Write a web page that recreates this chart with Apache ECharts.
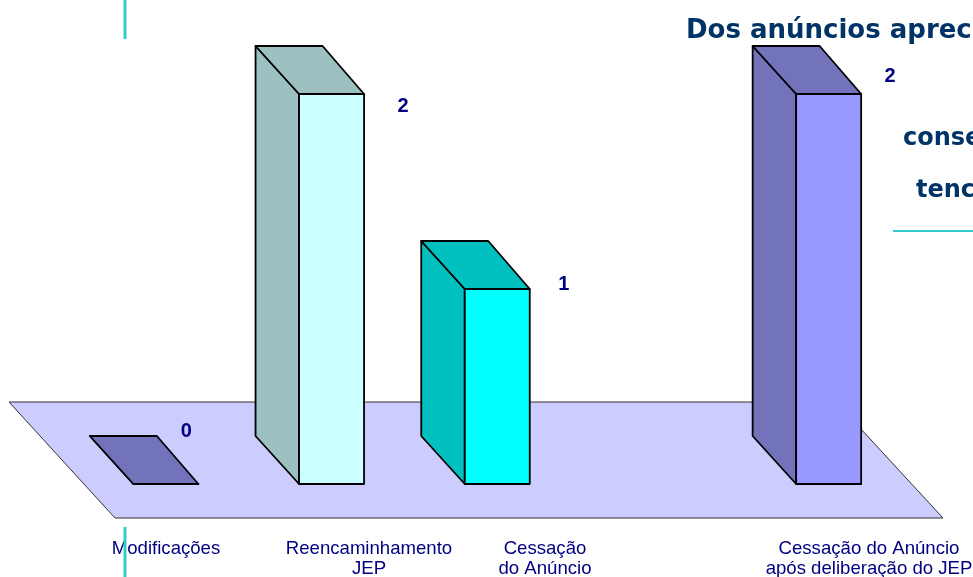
<!DOCTYPE html>
<html><head><meta charset="utf-8">
<style>html,body{margin:0;padding:0;background:#fff;overflow:hidden}#c{width:973px;height:577px}</style>
<script src="https://cdn.jsdelivr.net/npm/echarts@6/dist/echarts.min.js"></script>
</head><body><div id="c"></div>
<script>
const categories = ['Modificações', 'Reencaminhamento\nJEP', 'Cessação\ndo Anúncio', '', 'Cessação do Anúncio\napós deliberação do JEP'];
const values = [0, 2, 1, null, 2];

const frontColors = ['#7373BC', '#CCFFFF', '#00FFFF', '#fff', '#9999FF'];
const sideColors = ['#7373BC', '#9CC1C0', '#00C0C0', '#fff', '#7373BC'];
const labelDx = [-12, 39, 34, 0, 29];
const labelDy = [-54, 11, -6, 0, -19];
const catCenterX = [166, 369, 545, 0, 869];

const navy = '#000080', cyan = '#33CCCC', ink = '#000';
const chart = echarts.init(document.getElementById('c'), null, {renderer: 'canvas'});

const graphics = [];
categories.forEach((c, i) => {
  if (!c) return;
  graphics.push({type: 'text', z: 5, x: catCenterX[i], y: 539, style: {text: c, fill: navy, font: '18.6px "Liberation Sans"', align: 'center', verticalAlign: 'top', lineHeight: 20}});
});
const head = (t, x, y, s) => graphics.push({type: 'text', z: 5, x, y, style: {text: t, fill: '#003366', font: 'bold ' + s + 'px "DejaVu Sans"', verticalAlign: 'middle'}});
head('Dos anúncios aprec', 686, 31, 26);
head('conse', 903, 139, 24);
head('tenc', 916, 191, 24);
[[125, 0, 125, 39], [125, 527, 125, 577]].forEach(s => graphics.push({type: 'line', z: 6, shape: {x1: s[0], y1: s[1], x2: s[2], y2: s[3]}, style: {stroke: cyan, lineWidth: 3}}));
graphics.push({type: 'line', z: 6, shape: {x1: 893, y1: 231, x2: 973, y2: 231}, style: {stroke: cyan, lineWidth: 2}});

function renderFloor(params, api) {
  const o = api.coord([0, 0]);
  const base = o[1];
  return {type: 'polygon', shape: {points: [[9, base - 82], [836, base - 82], [943, base + 34], [115, base + 34]]},
    style: {fill: '#CCCCFF', stroke: '#333', lineWidth: 1}};
}
function renderBar(params, api) {
  const i = api.value(0), v = api.value(1);
  const w = 65, dx = 43.5, dy = 48;
  const c = api.coord([i, v]), b = api.coord([i, 0]);
  const L = c[0] - w / 2 + 0.5, R = L + w, T = c[1], B = b[1];
  const line = {stroke: ink, lineWidth: 1.8, lineJoin: 'round'};
  return {type: 'group', children: [
    {type: 'polygon', shape: {points: [[L - dx, T - dy], [L, T], [L, B], [L - dx, B - dy]]}, style: {fill: sideColors[i], ...line}},
    {type: 'polygon', shape: {points: [[L - dx, T - dy], [R - dx + 2, T - dy], [R, T], [L, T]]}, style: {fill: sideColors[i], ...line}},
    {type: 'rect', shape: {x: L, y: T, width: w, height: B - T}, style: {fill: frontColors[i], ...line}},
    {type: 'text', x: R + labelDx[i], y: T + labelDy[i] + 1, style: {text: String(v), fill: navy, font: 'bold 20px "Liberation Sans"', align: 'center', verticalAlign: 'middle'}}
  ]};
}

chart.setOption({
  animation: false,
  backgroundColor: '#fff',
  grid: {left: 82.5, right: 62, top: 94, bottom: 93},
  xAxis: {type: 'category', data: categories, show: false},
  yAxis: {type: 'value', min: 0, max: 2, show: false},
  graphic: graphics,
  series: [
    {type: 'custom', z: 1, clip: false, silent: true, renderItem: renderFloor, data: [[0, 0]]},
    {type: 'custom', z: 2, clip: false, renderItem: renderBar,
      data: values.map((v, i) => v === null ? null : [i, v]).filter(Boolean)}
  ]
});
</script></body></html>
